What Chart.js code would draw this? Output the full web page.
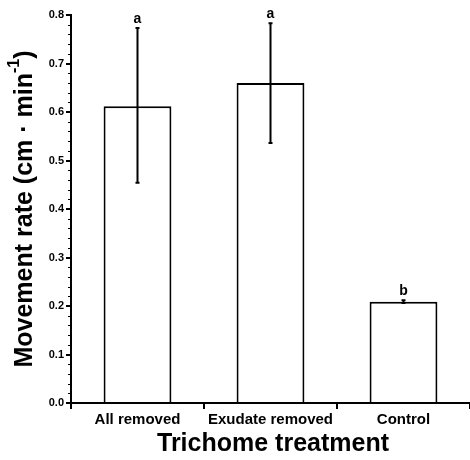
<!DOCTYPE html>
<html>
<head>
<meta charset="utf-8">
<script src="https://cdn.jsdelivr.net/npm/chart.js@4/dist/chart.umd.min.js"></script>
<style>
html,body{margin:0;padding:0;background:#fff;}
#wrap{width:470px;height:460px;position:relative;}
</style>
</head>
<body>
<div id="wrap"><canvas id="c" width="470" height="460"></canvas></div>
<script>
const categories = ["All removed", "Exudate removed", "Control"];
const meanRate = [0.612, 0.660, 0.209];
const errLow = [0.454, 0.536, 0.206];
const errHigh = [0.773, 0.783, 0.212];
const letters = ["a", "a", "b"];
const yTickValues = [0.0, 0.1, 0.2, 0.3, 0.4, 0.5, 0.6, 0.7, 0.8];
const yTitle = "Movement rate (cm \u00B7 min";
const yTitleSup = "-1";
const xTitle = "Trichome treatment";

const FONT = "'Liberation Sans', Arial, Helvetica, sans-serif";

const extras = {
  id: 'extras',
  afterDatasetsDraw(chart) {
    const ctx = chart.ctx;
    const x = chart.scales.x, y = chart.scales.y;
    ctx.save();
    // error bars
    ctx.strokeStyle = '#000';
    ctx.lineWidth = 2;
    meanRate.forEach((v, i) => {
      const px = x.getPixelForValue(i);
      const top = y.getPixelForValue(errHigh[i]);
      const bot = y.getPixelForValue(errLow[i]);
      ctx.beginPath();
      ctx.moveTo(px, top); ctx.lineTo(px, bot);
      ctx.moveTo(px - 2, top); ctx.lineTo(px + 2, top);
      ctx.moveTo(px - 2, bot); ctx.lineTo(px + 2, bot);
      ctx.stroke();
      ctx.fillStyle = '#000';
      ctx.font = "bold 14px " + FONT;
      ctx.textAlign = 'center';
      ctx.textBaseline = 'bottom';
      ctx.fillText(letters[i], px, top - 2);
    });
    // minor y ticks
    ctx.lineWidth = 1;
    const x0 = chart.chartArea.left;
    for (let k = 0; k <= 40; k++) {
      const v = k * 0.02;
      const py = Math.round(y.getPixelForValue(v)) + 0.5;
      ctx.beginPath();
      ctx.moveTo(x0 - 3, py); ctx.lineTo(x0 + 1, py);
      ctx.stroke();
    }
    // y title with superscript
    ctx.fillStyle = '#000';
    ctx.translate(25, 209);
    ctx.rotate(-Math.PI / 2);
    const mainFont = "bold 25px " + FONT;
    const supFont = "bold 16px " + FONT;
    ctx.font = mainFont;
    const w1 = ctx.measureText(yTitle).width;
    ctx.font = supFont;
    const w2 = ctx.measureText(yTitleSup).width;
    ctx.font = mainFont;
    const w3 = ctx.measureText(")").width;
    const total = w1 + w2 + w3;
    let sx = -total / 2;
    ctx.textAlign = 'left';
    ctx.textBaseline = 'middle';
    ctx.fillText(yTitle, sx, 0);
    ctx.font = supFont;
    ctx.fillText(yTitleSup, sx + w1, -10);
    ctx.font = mainFont;
    ctx.fillText(")", sx + w1 + w2, 0);
    ctx.restore();
    // x title
    ctx.save();
    ctx.fillStyle = '#000';
    ctx.font = "bold 25px " + FONT;
    ctx.textAlign = 'center';
    ctx.textBaseline = 'middle';
    ctx.fillText(xTitle, 273, 444);
    ctx.restore();
  }
};

new Chart(document.getElementById('c'), {
  type: 'bar',
  data: {
    labels: categories,
    datasets: [{
      data: meanRate,
      backgroundColor: '#ffffff',
      borderColor: '#000000',
      borderWidth: 2,
      borderSkipped: 'bottom',
      categoryPercentage: 1.0,
      barPercentage: 0.51
    }]
  },
  options: {
    responsive: false,
    animation: false,
    devicePixelRatio: 1,
    layout: { padding: { top: 15, right: 0, left: 0, bottom: 0 } },
    plugins: { legend: { display: false }, tooltip: { enabled: false } },
    scales: {
      x: {
        offset: true,
        grid: { offset: true, drawOnChartArea: false, drawTicks: true, tickLength: 6, color: '#000', lineWidth: 2 },
        border: { display: true, color: '#000', width: 2 },
        ticks: { color: '#000', font: { family: FONT, size: 15, weight: 'bold' }, padding: 2, maxRotation: 0 },
        afterFit(s) { s.height = 57; }
      },
      y: {
        min: 0, max: 0.8,
        afterBuildTicks(s) { s.ticks = yTickValues.map(v => ({ value: v })); },
        grid: { drawOnChartArea: false, drawTicks: true, tickLength: 5, color: '#000', lineWidth: 2 },
        border: { display: true, color: '#000', width: 2 },
        ticks: { color: '#000', font: { family: FONT, size: 11, weight: 'bold' }, padding: 2,
          callback: (v) => Number(v).toFixed(1) },
        afterFit(s) { s.width = 71; }
      }
    }
  },
  plugins: [extras]
});
</script>
</body>
</html>
